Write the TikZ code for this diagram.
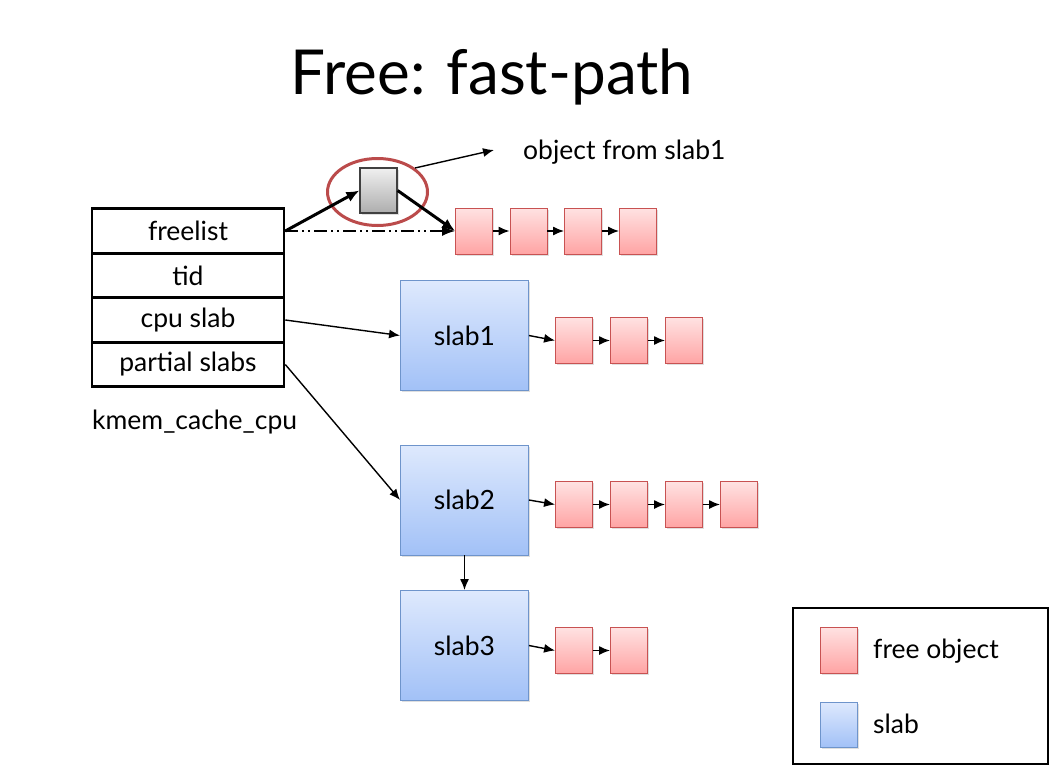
\documentclass[tikz,border=0pt]{standalone}
\usepackage{fontspec}
\setmainfont{Lato}
\usetikzlibrary{arrows.meta,positioning,shadows,shapes.geometric}
\definecolor{objtop}{HTML}{FFE2E2}
\definecolor{objbot}{HTML}{FFA4A4}
\definecolor{objedge}{HTML}{C85252}
\definecolor{slabtop}{HTML}{DEE9FD}
\definecolor{slabbot}{HTML}{A2C1F7}
\definecolor{slabedge}{HTML}{6E94CB}
\definecolor{ringred}{HTML}{BB4B4B}

\begin{document}
\begin{tikzpicture}[
  x=1pt,y=-1pt,
  fld/.style={draw,line width=2.6pt,minimum width=192pt,minimum height=44.5pt,inner sep=0pt,font=\fontsize{26.5}{30}\selectfont},
  fobj/.style={draw=objedge,line width=0.9pt,top color=objtop,bottom color=objbot,minimum width=37pt,minimum height=46pt,inner sep=0pt,drop shadow={shadow xshift=1.5pt,shadow yshift=-1.5pt,opacity=0.25}},
  slab/.style={draw=slabedge,line width=0.9pt,top color=slabtop,bottom color=slabbot,minimum width=128pt,minimum height=110pt,inner sep=0pt,font=\fontsize{26.5}{30}\selectfont,drop shadow={shadow xshift=1.5pt,shadow yshift=-1.5pt,opacity=0.25}},
  lbl/.style={font=\fontsize{26.5}{30}\selectfont,inner sep=0pt},
  arr/.style={-{Latex[length=11pt,width=9pt]},line width=1.4pt},
  tarr/.style={-{Latex[length=13pt,width=11pt]},line width=3pt}]
\useasboundingbox (0,0) rectangle (1056,779);

% ---------- title ----------
\node[font=\fontsize{62}{68}\selectfont,inner sep=0pt] (title) at (492,77) {Free: fast-path};

% ---------- kmem_cache_cpu fields ----------
\node[fld] (freelist) at (188,231) {freelist};
\node[fld] (tid)      at (188,275.5) {tid};
\node[fld] (cpuslab)  at (188,320) {cpu slab};
\node[fld] (partial)  at (188,364.5) {partial slabs};
\node[lbl,anchor=west] (kmemlbl) at (92,422) {kmem\_cache\_cpu};

% ---------- object being freed, circled ----------
\node[draw=black!75,line width=1.2pt,top color=black!6,bottom color=black!32,minimum width=37pt,minimum height=45pt,inner sep=0pt,drop shadow={shadow xshift=1.5pt,shadow yshift=-1.5pt,opacity=0.25}] (obj) at (378.5,190.5) {};
\node[draw=ringred,line width=3pt,ellipse,minimum width=100pt,minimum height=67pt,inner sep=0pt] (ring) at (377.5,192) {};
\node[lbl,anchor=west] (objlbl) at (523,152) {object from slab1};
\coordinate (ringtop) at (415,168);
\coordinate (objtip) at (494,150);
\draw[arr] (ringtop) -- (objtip);

% ---------- freelist chain ----------
\node[fobj] (f1) at (474,231) {};
\node[fobj] (f2) at (528.5,231) {};
\node[fobj] (f3) at (583,231) {};
\node[fobj] (f4) at (638,231) {};
\draw[arr] (f1) -- (f2);
\draw[arr] (f2) -- (f3);
\draw[arr] (f3) -- (f4);
\draw[line width=1.4pt,dash pattern=on 13pt off 4pt on 2pt off 4pt on 2pt off 4pt,-{Latex[length=13pt,width=10pt]}] (freelist.east) -- (f1.west);
\draw[tarr] (freelist.east) -- (obj.west);
\draw[tarr] (obj.east) -- (f1.west);

% ---------- slabs ----------
\node[slab] (slab1) at (464.5,335.5) {slab1};
\node[slab] (slab2) at (464.5,500) {slab2};
\node[slab] (slab3) at (464.5,645.5) {slab3};
\draw[arr] (cpuslab.east) -- (slab1.west);
\draw[arr] (partial.east) -- (slab2.west);
\draw[arr] (slab2) -- (slab3);

% slab1 free objects
\node[fobj] (a1) at (574,340.5) {};
\node[fobj] (a2) at (629,340.5) {};
\node[fobj] (a3) at (684,340.5) {};
\draw[arr] (slab1.east) -- (a1.west);
\draw[arr] (a1) -- (a2);
\draw[arr] (a2) -- (a3);
% slab2 free objects
\node[fobj] (b1) at (574,504.5) {};
\node[fobj] (b2) at (629,504.5) {};
\node[fobj] (b3) at (684,504.5) {};
\node[fobj] (b4) at (739,504.5) {};
\draw[arr] (slab2.east) -- (b1.west);
\draw[arr] (b1) -- (b2);
\draw[arr] (b2) -- (b3);
\draw[arr] (b3) -- (b4);
% slab3 free objects
\node[fobj] (c1) at (574,650.5) {};
\node[fobj] (c2) at (629,650.5) {};
\draw[arr] (slab3.east) -- (c1.west);
\draw[arr] (c1) -- (c2);

% ---------- legend ----------
\node[draw,line width=2.6pt,minimum width=255pt,minimum height=156pt,inner sep=0pt] (legend) at (920.5,686) {};
\node[fobj] (legobj) at (838.5,650) {};
\node[fobj,draw=slabedge,top color=slabtop,bottom color=slabbot,minimum height=45pt] (legslab) at (838.5,724.5) {};
\node[lbl,anchor=west] (legobjlbl) at (873,651) {free object};
\node[lbl,anchor=west] (legslablbl) at (873,724) {slab};
\end{tikzpicture}
\end{document}
